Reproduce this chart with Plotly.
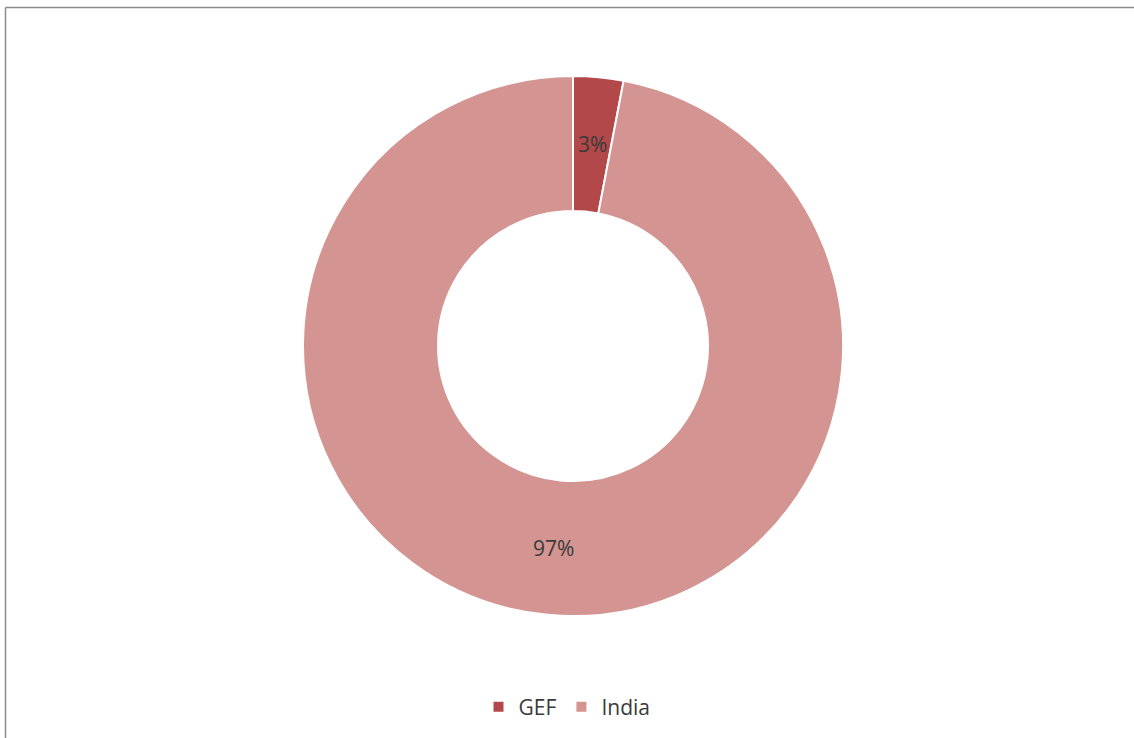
import math
import plotly.graph_objects as go

# Funding shares
labels = ["GEF", "India"]
values = [3, 97]
colors = ["#B3484A", "#D39492"]

W, H = 1134, 738
HOLE = 0.5
DOM_X = [0.2672, 0.7434]
DOM_Y = [0.1653, 0.8970]
FONT = "Open Sans"
TEXT_COLOR = "#3A3A3A"

fig = go.Figure(
    go.Pie(
        labels=labels,
        values=values,
        hole=HOLE,
        sort=False,
        direction="clockwise",
        rotation=0,
        marker=dict(colors=colors, line=dict(color="white", width=2)),
        textinfo="none",
        hoverinfo="label+percent",
        domain=dict(x=DOM_X, y=DOM_Y),
    )
)

# Percentage labels at the middle of each ring segment
cx = (DOM_X[0] + DOM_X[1]) / 2 * W
cy = (1 - (DOM_Y[0] + DOM_Y[1]) / 2) * H
R = min((DOM_X[1] - DOM_X[0]) * W, (DOM_Y[1] - DOM_Y[0]) * H) / 2
r_mid = R * (1 + HOLE) / 2
total = sum(values)
cum = 0
annotations = []
for v in values:
    theta = 2 * math.pi * (cum + v / 2) / total
    cum += v
    px = cx + r_mid * math.sin(theta)
    py = cy - r_mid * math.cos(theta)
    annotations.append(
        dict(
            x=px / W, y=1 - py / H, xref="paper", yref="paper",
            text=f"{round(100 * v / total)}%", showarrow=False,
            font=dict(family=FONT, size=21, color=TEXT_COLOR),
            xanchor="center", yanchor="middle",
        )
    )

# Chart frame (left and top edges)
shapes = [
    dict(type="line", xref="paper", yref="paper",
         x0=5.5 / W, x1=1.02, y0=1 - 7.5 / H, y1=1 - 7.5 / H,
         line=dict(color="#8C8C8C", width=1.5)),
    dict(type="line", xref="paper", yref="paper",
         x0=5.5 / W, x1=5.5 / W, y0=-0.02, y1=1 - 7.5 / H,
         line=dict(color="#8C8C8C", width=1.5)),
]

fig.update_layout(
    width=W, height=H,
    margin=dict(l=0, r=0, t=0, b=0),
    paper_bgcolor="white",
    plot_bgcolor="white",
    font=dict(family=FONT, color=TEXT_COLOR),
    showlegend=True,
    legend=dict(
        orientation="h", x=0.5, xanchor="center", y=1 - 707 / H, yanchor="middle",
        font=dict(family=FONT, size=21, color=TEXT_COLOR),
        itemwidth=30, traceorder="normal",
    ),
    annotations=annotations,
    shapes=shapes,
)

fig.write_html("out.html")
